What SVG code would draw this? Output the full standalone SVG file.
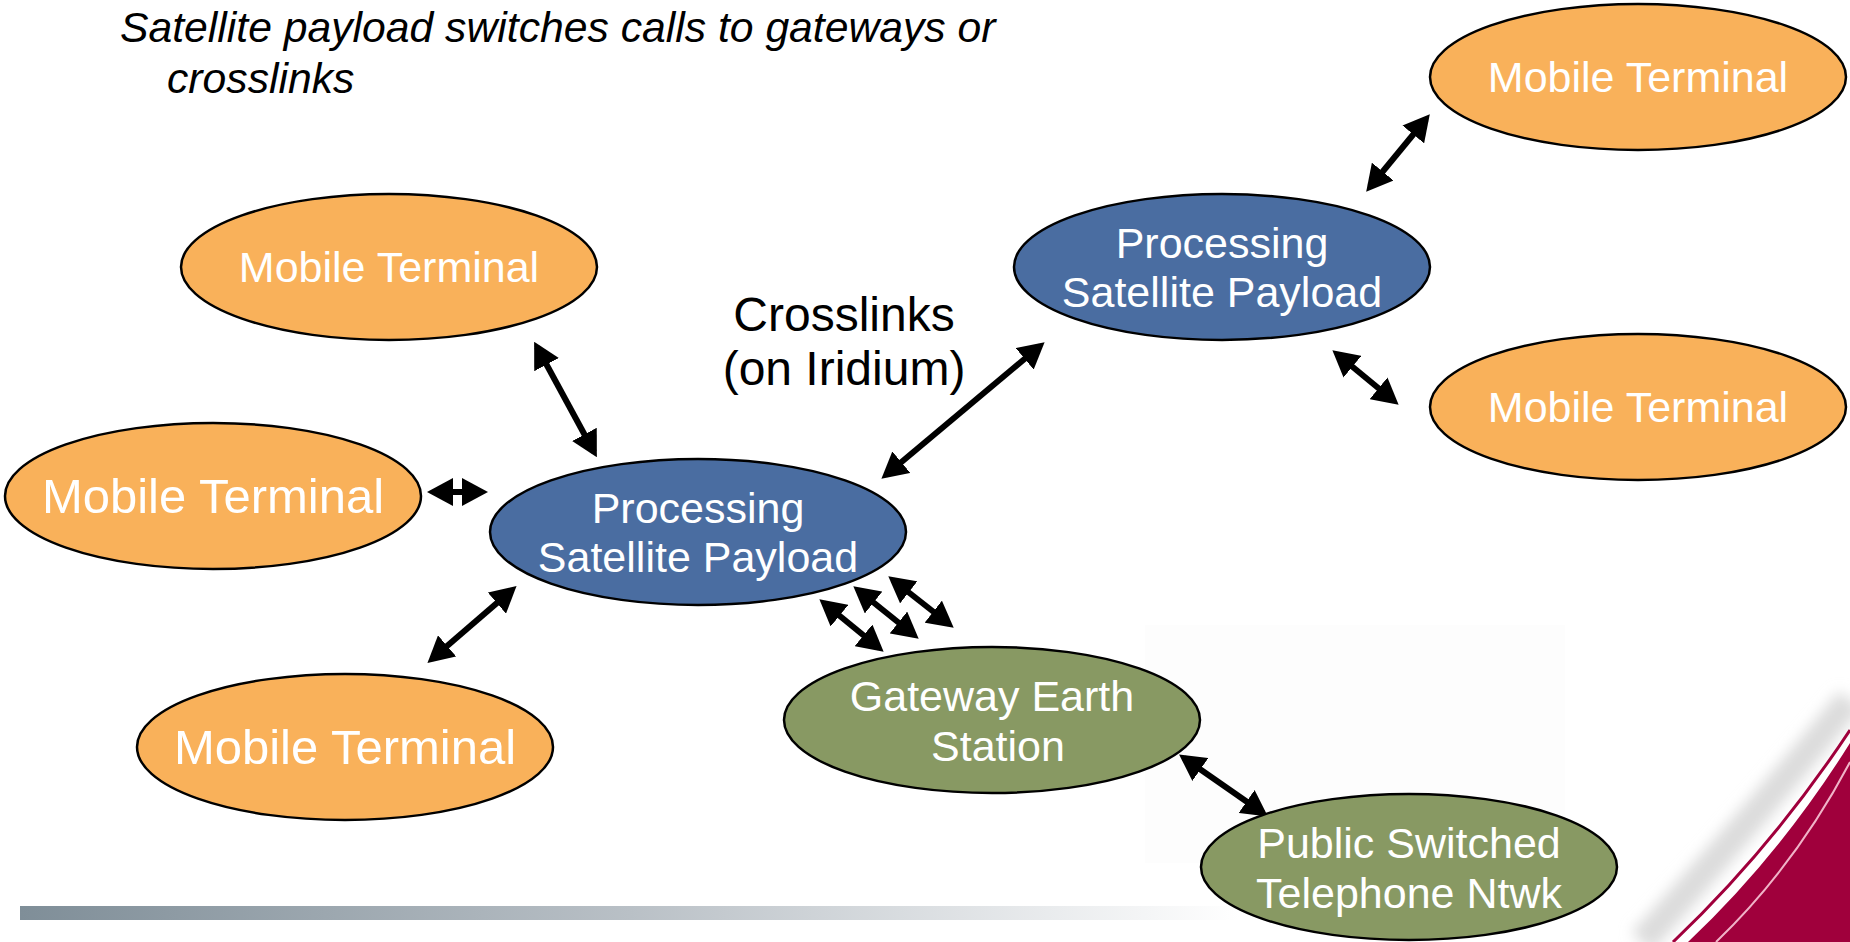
<svg xmlns="http://www.w3.org/2000/svg" width="1850" height="942" viewBox="0 0 1850 942">
<defs>
<linearGradient id="bar" x1="0" y1="0" x2="1" y2="0">
<stop offset="0" stop-color="#7f8e98"/>
<stop offset="0.5" stop-color="#b9c0c6"/>
<stop offset="1" stop-color="#ffffff"/>
</linearGradient>
<filter id="blur" x="-20%" y="-20%" width="140%" height="140%"><feGaussianBlur stdDeviation="7"/></filter>
<marker id="ah" viewBox="0 0 26 28" markerWidth="26" markerHeight="28" refX="20" refY="14" markerUnits="userSpaceOnUse" orient="auto-start-reverse">
<path d="M0,0 L26,14 L0,28 z" fill="#000"/>
</marker>
<style>
.mt{fill:#f9b15a;stroke:#000;stroke-width:2.5}
.ps{fill:#4a6da1;stroke:#000;stroke-width:2.5}
.gw{fill:#889963;stroke:#000;stroke-width:2.5}
.wt{fill:#fff;font-family:"Liberation Sans",Arial,sans-serif;font-size:43px;text-anchor:middle}
.big{font-size:49px}
.lbl{fill:#000;font-family:"Liberation Sans",Arial,sans-serif;font-size:48px;text-anchor:middle}
.title{fill:#000;font-family:"Liberation Sans",Arial,sans-serif;font-size:42.7px;font-style:italic}
.cn line{stroke:#000;stroke-width:6;marker-start:url(#ah);marker-end:url(#ah)}
</style>
</defs>
<rect width="1850" height="942" fill="#fff"/>
<g id="background">
<rect x="1145" y="625" width="420" height="238" fill="#fdfdfd"/>
<rect x="20" y="906" width="1220" height="14" fill="url(#bar)"/>
<path d="M1850,700 Q1752,820 1642,942" fill="none" stroke="#dcdcdc" stroke-width="28" filter="url(#blur)"/>
<path d="M1850,730 Q1772,848 1673,942" fill="none" stroke="#a0003c" stroke-width="3"/>
<path d="M1850,743 Q1780,855 1688,942 L1850,942 z" fill="#a0003c"/>
<path d="M1850,762 Q1795,866 1716,942" fill="none" stroke="#f0b4c8" stroke-width="2"/>
</g>
<g id="title">
<text class="title" x="120" y="42">Satellite payload switches calls to gateways or</text>
<text class="title" x="167" y="93">crosslinks</text>
</g>
<g id="crosslinks-label">
<text class="lbl" x="844" y="331">Crosslinks</text>
<text class="lbl" x="844" y="385">(on Iridium)</text>
</g>
<g class="cn" id="connectors">
<line x1="537" y1="347" x2="594" y2="452"/>
<line x1="433" y1="492" x2="482" y2="492"/>
<line x1="432" y1="659" x2="512" y2="590"/>
<line x1="886" y1="475" x2="1040" y2="346"/>
<line x1="1370" y1="187" x2="1426" y2="119"/>
<line x1="1337" y1="354" x2="1394" y2="401"/>
<line x1="824" y1="603" x2="879" y2="648"/>
<line x1="858" y1="590" x2="914" y2="635"/>
<line x1="893" y1="580" x2="949" y2="624"/>
<line x1="1184" y1="758" x2="1263" y2="813"/>
</g>
<g id="mt-topleft"><ellipse class="mt" cx="389" cy="267" rx="208" ry="73"/><text class="wt" x="389" y="282">Mobile Terminal</text></g>
<g id="mt-left"><ellipse class="mt" cx="213" cy="496" rx="208" ry="73"/><text class="wt big" x="213" y="513">Mobile Terminal</text></g>
<g id="mt-bottomleft"><ellipse class="mt" cx="345" cy="747" rx="208" ry="73"/><text class="wt big" x="345" y="764">Mobile Terminal</text></g>
<g id="mt-topright"><ellipse class="mt" cx="1638" cy="77" rx="208" ry="73"/><text class="wt" x="1638" y="92">Mobile Terminal</text></g>
<g id="mt-right"><ellipse class="mt" cx="1638" cy="407" rx="208" ry="73"/><text class="wt" x="1638" y="422">Mobile Terminal</text></g>
<g id="payload-center"><ellipse class="ps" cx="698" cy="532" rx="208" ry="73"/><text class="wt" x="698" y="523">Processing</text><text class="wt" x="698" y="572">Satellite Payload</text></g>
<g id="payload-topright"><ellipse class="ps" cx="1222" cy="267" rx="208" ry="73"/><text class="wt" x="1222" y="258">Processing</text><text class="wt" x="1222" y="307">Satellite Payload</text></g>
<g id="gateway"><ellipse class="gw" cx="992" cy="720" rx="208" ry="73"/><text class="wt" x="992" y="711">Gateway Earth</text><text class="wt" x="998" y="761">Station</text></g>
<g id="pstn"><ellipse class="gw" cx="1409" cy="867" rx="208" ry="73"/><text class="wt" x="1409" y="858">Public Switched</text><text class="wt" x="1409" y="908">Telephone Ntwk</text></g>
</svg>
